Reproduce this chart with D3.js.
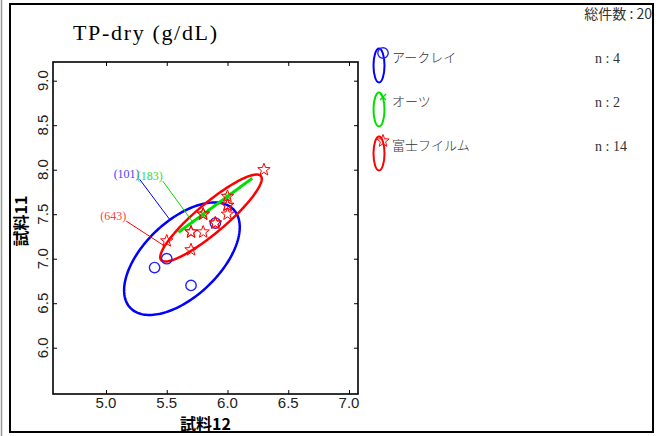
<!DOCTYPE html>
<html>
<head>
<meta charset="utf-8">
<script src="https://cdn.jsdelivr.net/npm/d3@7"></script>
<style>
  body { margin: 0; background: #fff; }
  svg { display: block; }
</style>
</head>
<body>
<svg id="chart" width="667" height="436"></svg>
<script>
// data
var title = "TP-dry (g/dL)";
var totalCount = 20;
var groupNames = ["アークレイ", "オーツ", "富士フイルム"];
var groupColors = ["#0000ff", "#00e000", "#ff0000"];
var labIds = ["(101)", "(183)", "(643)"];
var arkrayX = [5.4, 5.5, 5.7, 5.9];
var arkrayY = [6.9, 7.0, 6.7, 7.4];
var otsukaX = [5.8, 6.0];
var otsukaY = [7.5, 7.7];
var fujiX = [6.3, 6.0, 6.0, 6.0, 5.9, 5.8, 5.7, 5.8, 5.7, 5.5, 5.8, 5.9, 5.7, 6.0];
var fujiY = [8.0, 7.7, 7.6, 7.5, 7.4, 7.5, 7.3, 7.3, 7.1, 7.2, 7.5, 7.4, 7.3, 7.6];
var xTicks = [5.0, 5.5, 6.0, 6.5, 7.0];
var yTicks = [6.0, 6.5, 7.0, 7.5, 8.0, 8.5, 9.0];
// label centres (data units) for the lab id annotations
var labLabelX = [5.17, 5.36, 5.06];
var labLabelY = [7.96, 7.94, 7.49];

var xs = [arkrayX, otsukaX, fujiX];
var ys = [arkrayY, otsukaY, fujiY];

var svg = d3.select("#chart");
var plot = { left: 53, top: 62, right: 358, bottom: 394 };
var x = d3.scaleLinear().domain([4.564, 7.074]).range([plot.left, plot.right]);
var y = d3.scaleLinear().domain([5.48, 9.21]).range([plot.bottom, plot.top]);

// outer frame
svg.append("line")
    .attr("x1", 1.5).attr("x2", 1.5).attr("y1", 0).attr("y2", 436)
    .attr("stroke", "#999").attr("stroke-width", 1.5);
svg.append("rect")
    .attr("x", 10).attr("y", 4).attr("width", 643).attr("height", 428)
    .attr("fill", "none").attr("stroke", "#000").attr("stroke-width", 2);

svg.append("text")
    .attr("x", 73).attr("y", 40)
    .attr("textLength", 144)
    .attr("lengthAdjust", "spacing")
    .style("font-family", "'Liberation Serif', serif")
    .style("font-size", "22px")
    .text(title);

svg.append("text")
    .attr("x", 652).attr("y", 19)
    .attr("text-anchor", "end")
    .style("font-family", "'Noto Sans CJK JP', sans-serif")
    .style("font-size", "14px")
    .style("fill", "#333")
    .text("総件数 : " + totalCount);

// axes, ticks inward on all sides
var fmt = d3.format(".1f");
var bottomAxis = d3.axisBottom(x).tickValues(xTicks).tickSize(-4).tickFormat("");
var topAxis = d3.axisTop(x).tickValues(xTicks).tickSize(-4).tickFormat("");
var leftAxis = d3.axisLeft(y).tickValues(yTicks).tickSize(-4).tickFormat("");
var rightAxis = d3.axisRight(y).tickValues(yTicks).tickSize(-4).tickFormat("");
svg.append("g").attr("transform", "translate(0," + plot.bottom + ")").call(bottomAxis);
svg.append("g").attr("transform", "translate(0," + plot.top + ")").call(topAxis);
svg.append("g").attr("transform", "translate(" + plot.left + ",0)").call(leftAxis);
svg.append("g").attr("transform", "translate(" + plot.right + ",0)").call(rightAxis);
svg.selectAll(".domain").remove();
svg.selectAll(".tick line").attr("stroke", "#000").attr("stroke-width", 1);
svg.append("rect")
    .attr("x", plot.left).attr("y", plot.top)
    .attr("width", plot.right - plot.left).attr("height", plot.bottom - plot.top)
    .attr("fill", "none").attr("stroke", "#000").attr("stroke-width", 1.6);

var tickFont = "'Liberation Sans Narrow', 'Liberation Sans', sans-serif";
svg.append("g").selectAll("text")
    .data(xTicks).enter().append("text")
    .attr("x", function (d) { return x(d); })
    .attr("y", 408)
    .attr("text-anchor", "middle")
    .style("font-family", tickFont)
    .style("font-size", "15px")
    .style("fill", "#222")
    .text(fmt);
svg.append("g").selectAll("text")
    .data(yTicks).enter().append("text")
    .attr("transform", function (d) { return "translate(48," + y(d) + ") rotate(-90)"; })
    .attr("text-anchor", "middle")
    .style("font-family", tickFont)
    .style("font-size", "15px")
    .style("fill", "#222")
    .text(fmt);

svg.append("text")
    .attr("x", (plot.left + plot.right) / 2).attr("y", 430)
    .attr("text-anchor", "middle")
    .style("font-family", "'Noto Sans CJK JP', sans-serif")
    .style("font-weight", "bold")
    .style("font-size", "16px")
    .text("試料12");
svg.append("text")
    .attr("transform", "translate(27,221) rotate(-90)")
    .attr("text-anchor", "middle")
    .style("font-family", "'Noto Sans CJK JP', sans-serif")
    .style("font-weight", "bold")
    .style("font-size", "16px")
    .text("試料11");

// 90% confidence ellipse from sample covariance
var k = Math.sqrt(-2 * Math.log(0.1));
function ellipsePoints(px, py) {
    var n = px.length;
    var mx = d3.mean(px), my = d3.mean(py);
    var sxx = 0, syy = 0, sxy = 0;
    for (var i = 0; i < n; i++) {
        sxx += (px[i] - mx) * (px[i] - mx);
        syy += (py[i] - my) * (py[i] - my);
        sxy += (px[i] - mx) * (py[i] - my);
    }
    sxx /= n - 1; syy /= n - 1; sxy /= n - 1;
    var a = Math.sqrt(sxx), b = sxy / a, c = Math.sqrt(Math.max(syy - b * b, 0));
    var pts = [];
    for (var j = 0; j < 180; j++) {
        var t = j / 180 * 2 * Math.PI;
        var u = Math.cos(t) * k, v = Math.sin(t) * k;
        pts.push([x(mx + a * u), y(my + b * u + c * v)]);
    }
    return pts;
}

function starPath(r) {
    var p = [];
    for (var i = 0; i < 10; i++) {
        var rr = i % 2 === 0 ? r : r * 0.42;
        var ang = -Math.PI / 2 + i * Math.PI / 5;
        p.push([rr * Math.cos(ang), rr * Math.sin(ang)]);
    }
    return "M" + p.join("L") + "Z";
}

function drawMarker(g, gi, cx, cy) {
    var col = groupColors[gi];
    if (gi === 0) {
        g.append("circle").attr("cx", cx).attr("cy", cy).attr("r", 5.2)
            .attr("fill", "none").attr("stroke", "#2222ff").attr("stroke-width", 1.4);
    } else if (gi === 1) {
        g.append("path").attr("transform", "translate(" + cx + "," + cy + ")")
            .attr("d", "M-3,-3L3,3M-3,3L3,-3")
            .attr("stroke", col).attr("stroke-width", 1.4);
    } else {
        g.append("path").attr("transform", "translate(" + cx + "," + cy + ")")
            .attr("d", starPath(6.5))
            .attr("fill", "none").attr("stroke", col).attr("stroke-width", 1);
    }
}

var line = d3.line().curve(d3.curveLinearClosed);
var ellipses = [];
var gEll = svg.append("g");
groupNames.forEach(function (name, gi) {
    var pts = ellipsePoints(xs[gi], ys[gi]);
    ellipses.push(pts);
    gEll.append("path")
        .attr("d", line(pts))
        .attr("fill", "none")
        .attr("stroke", groupColors[gi])
        .attr("stroke-width", gi === 1 ? 3 : 2.5);
});

var gPts = svg.append("g");
groupNames.forEach(function (name, gi) {
    xs[gi].forEach(function (vx, i) {
        drawMarker(gPts, gi, x(vx), y(ys[gi][i]));
    });
});

// lab id annotations with leader lines to nearest ellipse point
var labelColors = ["#4444ff", "#33dd33", "#ff4444"];
var lineColors = ["#0000ff", "#00dd00", "#ff0000"];
labIds.forEach(function (id, gi) {
    var cx = x(labLabelX[gi]), cy = y(labLabelY[gi]);
    var t = svg.append("text")
        .attr("x", cx).attr("y", cy + 4.5)
        .attr("text-anchor", "middle")
        .style("font-family", "'Liberation Serif', serif")
        .style("font-size", "12px")
        .style("fill", labelColors[gi])
        .text(id);
    var w = t.node().getComputedTextLength();
    var sx = cx + w / 2, sy = cy + 6;
    var best = d3.least(ellipses[gi], function (p) {
        return (p[0] - sx) * (p[0] - sx) + (p[1] - sy) * (p[1] - sy);
    });
    svg.append("line")
        .attr("x1", sx).attr("y1", sy).attr("x2", best[0]).attr("y2", best[1])
        .attr("stroke", lineColors[gi]).attr("stroke-width", 1);
});

// legend
var legend = svg.append("g");
groupNames.forEach(function (name, gi) {
    var top = 48 + gi * 44;
    legend.append("ellipse")
        .attr("cx", 379).attr("cy", top + 17.5)
        .attr("rx", 5.5).attr("ry", 17)
        .attr("fill", "none").attr("stroke", groupColors[gi]).attr("stroke-width", 2);
    drawMarker(legend, gi, 383, top + 5);
    legend.append("text")
        .attr("x", 392).attr("y", top + 14)
        .style("font-family", "'Noto Sans CJK JP', sans-serif")
        .style("font-weight", "300")
        .style("font-size", "13px")
        .style("fill", "#333")
        .text(name);
    legend.append("text")
        .attr("x", 595).attr("y", top + 15)
        .style("font-family", "'Liberation Serif', serif")
        .style("font-size", "14px")
        .style("fill", "#333")
        .text("n : " + xs[gi].length);
});
</script>
</body>
</html>
